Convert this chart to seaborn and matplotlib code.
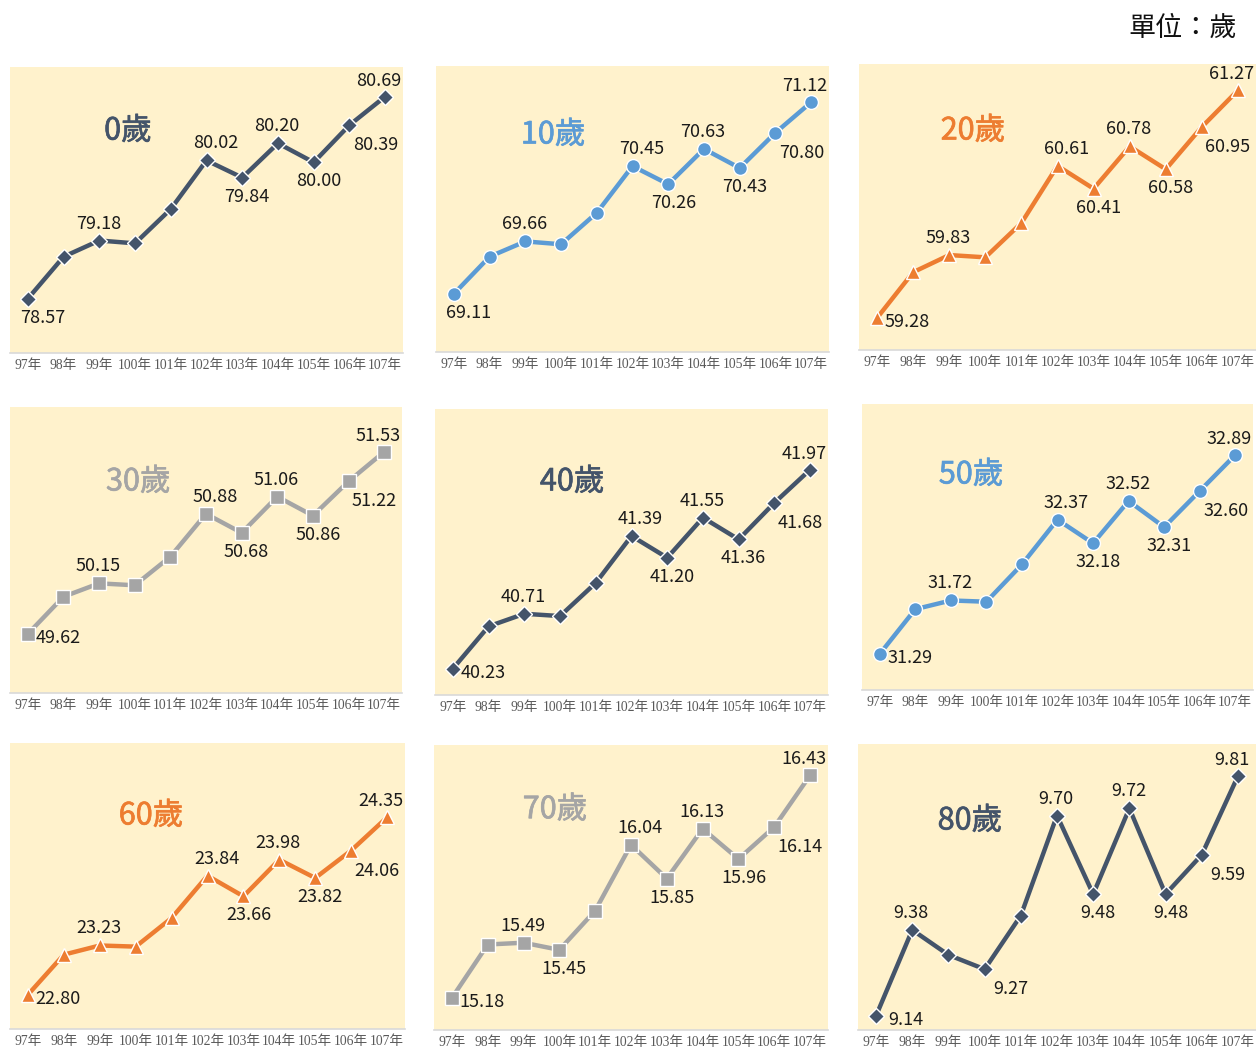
import numpy as np
import pandas as pd
import matplotlib
matplotlib.use("Agg")
import matplotlib.pyplot as plt
import matplotlib.patheffects as pe
import seaborn as sns

sns.set_style("white")
plt.rcParams["font.family"] = ["Noto Sans CJK TC", "DejaVu Sans"]

years = ["97年", "98年", "99年", "100年", "101年", "102年", "103年", "104年", "105年", "106年", "107年"]

ages = ["0歲", "10歲", "20歲", "30歲", "40歲", "50歲", "60歲", "70歲", "80歲"]

age0 = [78.57, 79.01, 79.18, 79.15, 79.51, 80.02, 79.84, 80.20, 80.00, 80.39, 80.69]
age10 = [69.11, 69.50, 69.66, 69.63, 69.96, 70.45, 70.26, 70.63, 70.43, 70.80, 71.12]
age20 = [59.28, 59.68, 59.83, 59.81, 60.11, 60.61, 60.41, 60.78, 60.58, 60.95, 61.27]
age30 = [49.62, 50.01, 50.15, 50.13, 50.43, 50.88, 50.68, 51.06, 50.86, 51.22, 51.53]
age40 = [40.23, 40.60, 40.71, 40.69, 40.98, 41.39, 41.20, 41.55, 41.36, 41.68, 41.97]
age50 = [31.29, 31.65, 31.72, 31.71, 32.01, 32.37, 32.18, 32.52, 32.31, 32.60, 32.89]
age60 = [22.80, 23.15, 23.23, 23.22, 23.47, 23.84, 23.66, 23.98, 23.82, 24.06, 24.35]
age70 = [15.18, 15.48, 15.49, 15.45, 15.67, 16.04, 15.85, 16.13, 15.96, 16.14, 16.43]
age80 = [9.14, 9.38, 9.31, 9.27, 9.42, 9.70, 9.48, 9.72, 9.48, 9.59, 9.81]

series = [age0, age10, age20, age30, age40, age50, age60, age70, age80]

# styling per panel
NAVY, BLUE, ORANGE, GRAY = "#44546A", "#5B9BD5", "#ED7D31", "#A5A5A5"
colors = [NAVY, BLUE, ORANGE, GRAY, NAVY, BLUE, ORANGE, GRAY, NAVY]
markers = ["D", "o", "^", "s", "D", "o", "^", "s", "D"]
msizes = [8, 10, 10, 10, 8, 10, 10, 10, 8]
ylims = [(78.0, 81.0), (68.5, 71.5), (59.0, 61.5), (49.0, 52.0), (40.0, 42.5),
         (31.0, 33.3), (22.5, 25.0), (15.0, 16.6), (9.1, 9.9)]

# axes rectangles in pixels: left, top, right, bottom
W, H = 1256, 1048
rects = [(10, 67, 403, 353), (436, 66, 829, 352), (859, 64, 1256, 350),
         (10, 407, 402, 693), (435, 409, 828, 695), (862, 404, 1253, 690),
         (10, 743, 405, 1029), (434, 745, 828, 1030), (858, 744, 1256, 1030)]
title_pos = [(0.300, 0.776), (0.298, 0.759), (0.287, 0.766), (0.327, 0.738), (0.349, 0.745),
             (0.279, 0.752), (0.357, 0.745), (0.307, 0.773), (0.281, 0.731)]

offsets = {"up": (-1, -17), "ur": (9, -17), "ul": (-6, -16), "down": (5, 19),
           "dr": (26, 20), "r": (30, 4), "br": (15, 19)}


def label_set(first, extra=None):
    d = {0: first, 2: "up", 5: "ur", 6: "down", 7: "up", 8: "down", 9: "dr", 10: "ul"}
    if extra:
        d.update(extra)
    return d


labels = [label_set("br"), label_set("br"), label_set("r"), label_set("r"), label_set("r"),
          label_set("r"), label_set("r"), label_set("r", {3: "down"}),
          {0: "r", 1: "up", 3: "dr", 5: "up", 6: "down", 7: "up", 8: "down", 9: "dr", 10: "ul"}]

fig = plt.figure(figsize=(W / 100, H / 100), dpi=100)
fig.patch.set_facecolor("white")

for i in range(9):
    l, t, r, b = rects[i]
    ax = fig.add_axes([l / W, 1 - b / H, (r - l) / W, (b - t) / H])
    ax.set_facecolor("#FFF2CC")
    df = pd.DataFrame({"x": np.arange(len(years)), "v": series[i]})
    sns.lineplot(data=df, x="x", y="v", ax=ax, color=colors[i], linewidth=3.2,
                 marker=markers[i], markersize=msizes[i], markeredgecolor="white",
                 markeredgewidth=1.0)
    ax.set_xlim(-0.5, len(years) - 0.5)
    ax.set_ylim(*ylims[i])
    ax.set_xticks(np.arange(len(years)))
    ax.set_xticklabels(years, fontsize=9.8, color="#595959",
                       family=["Liberation Serif", "Noto Sans CJK TC"])
    ax.tick_params(axis="x", length=0, pad=4)
    ax.set_yticks([])
    ax.set_xlabel("")
    ax.set_ylabel("")
    for s in ["top", "left", "right"]:
        ax.spines[s].set_visible(False)
    ax.spines["bottom"].set_color("#D9D9D9")
    ax.spines["bottom"].set_linewidth(1.2)
    for idx, place in labels[i].items():
        dx, dy = offsets[place]
        ax.annotate(f"{series[i][idx]:.2f}", (idx, series[i][idx]),
                    xytext=(dx, -dy), textcoords="offset pixels",
                    ha="center", va="center", fontsize=13, color="#1a1a1a")
    ax.text(title_pos[i][0], title_pos[i][1], ages[i], transform=ax.transAxes,
            ha="center", va="center", fontsize=22, color=colors[i],
            path_effects=[pe.withStroke(linewidth=0.5, foreground=colors[i])])

fig.text(1237 / W, 1 - 29 / H, "單位：歲", ha="right", va="center", fontsize=19.5,
         color="#111111", family=["Liberation Serif", "Noto Sans CJK TC"])

fig.savefig("out.png", dpi=100, facecolor="white")
